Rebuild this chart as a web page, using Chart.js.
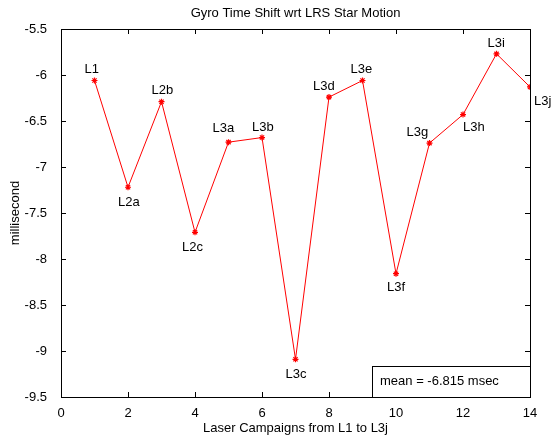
<!DOCTYPE html>
<html>
<head>
<meta charset="utf-8">
<script src="https://cdn.jsdelivr.net/npm/chart.js@4/dist/chart.umd.min.js"></script>
<style>
    html, body { margin: 0; padding: 0; background: #fff; }
    canvas { display: block; }
</style>
</head>
<body>
<canvas id="gyroChart" width="555" height="441"></canvas>
<script>
// Data
const campaigns = ['L1', 'L2a', 'L2b', 'L2c', 'L3a', 'L3b', 'L3c', 'L3d', 'L3e', 'L3f', 'L3g', 'L3h', 'L3i', 'L3j'];
const campaignIndex = [1, 2, 3, 4, 5, 6, 7, 8, 9, 10, 11, 12, 13, 14];
const timeShift = [-6.06, -7.22, -6.29, -7.71, -6.73, -6.68, -9.09, -6.24, -6.06, -8.16, -6.74, -6.43, -5.77, -6.13];
const xTicks = [0, 2, 4, 6, 8, 10, 12, 14];
const yTicks = [-9.5, -9, -8.5, -8, -7.5, -7, -6.5, -6, -5.5];
const meanText = 'mean = -6.815 msec';

const FONT = '13px "Liberation Sans", Arial, Helvetica, sans-serif';

// Label offsets (pixels) relative to each point
const labelOffsets = {
    L1: [-10, -11], L2a: [-10, 15], L2b: [-10, -11], L2c: [-13, 15],
    L3a: [-16, -14], L3b: [-10, -10], L3c: [-10, 15], L3d: [-16, -11],
    L3e: [-12, -11], L3f: [-9, 14], L3g: [-23, -11], L3h: [0, 13],
    L3i: [-9, -10], L3j: [4, 14]
};

// Draws box, inward ticks, title, axis titles, point labels and mean box
const matlabAxes = {
    id: 'matlabAxes',
    afterDraw(chart) {
        const ctx = chart.ctx;
        const area = chart.chartArea;
        const xs = chart.scales.x;
        const ys = chart.scales.y;
        ctx.save();

        // axes box
        ctx.strokeStyle = '#000';
        ctx.lineWidth = 1;
        ctx.strokeRect(Math.round(area.left) + 0.5, Math.round(area.top) + 0.5,
            Math.round(area.right - area.left), Math.round(area.bottom - area.top));

        // inward ticks on all sides
        const tl = 5;
        ctx.beginPath();
        xTicks.forEach(v => {
            const px = Math.round(xs.getPixelForValue(v)) + 0.5;
            ctx.moveTo(px, area.bottom); ctx.lineTo(px, area.bottom - tl);
            ctx.moveTo(px, area.top); ctx.lineTo(px, area.top + tl);
        });
        yTicks.forEach(v => {
            const py = Math.round(ys.getPixelForValue(v)) + 0.5;
            ctx.moveTo(area.left, py); ctx.lineTo(area.left + tl, py);
            ctx.moveTo(area.right, py); ctx.lineTo(area.right - tl, py);
        });
        ctx.stroke();

        ctx.fillStyle = '#000';
        ctx.font = FONT;
        const cx = (area.left + area.right) / 2;

        // title
        ctx.textAlign = 'center';
        ctx.textBaseline = 'middle';
        ctx.fillText('Gyro Time Shift wrt LRS Star Motion', cx, 13);

        // x axis title
        ctx.fillText('Laser Campaigns from L1 to L3j', cx, 428);

        // y axis title
        ctx.save();
        ctx.translate(15, (area.top + area.bottom) / 2);
        ctx.rotate(-Math.PI / 2);
        ctx.fillText('millisecond', 0, 0);
        ctx.restore();

        // point labels
        ctx.textAlign = 'left';
        campaigns.forEach((name, i) => {
            const px = xs.getPixelForValue(campaignIndex[i]);
            const py = ys.getPixelForValue(timeShift[i]);
            const off = labelOffsets[name];
            ctx.fillText(name, px + off[0], py + off[1]);
        });

        // mean box
        const bx = 372, by = 366;
        ctx.fillStyle = '#fff';
        ctx.fillRect(bx + 0.5, by + 0.5, area.right - bx, area.bottom - by);
        ctx.strokeRect(bx + 0.5, by + 0.5, Math.round(area.right) - bx, Math.round(area.bottom) - by);
        ctx.fillStyle = '#000';
        ctx.fillText(meanText, bx + 8, by + 15);

        ctx.restore();
    }
};

const tickFont = { family: '"Liberation Sans", Arial, sans-serif', size: 13 };

document.addEventListener('DOMContentLoaded', function () {
    const ctx = document.getElementById('gyroChart').getContext('2d');
    new Chart(ctx, {
        type: 'scatter',
        data: {
            datasets: [{
                data: campaignIndex.map((x, i) => ({ x: x, y: timeShift[i] })),
                showLine: true,
                borderColor: '#ff0000',
                backgroundColor: '#ff0000',
                borderWidth: 1,
                pointStyle: 'star',
                pointRadius: 3,
                pointBorderWidth: 1.2,
                tension: 0
            }]
        },
        options: {
            responsive: false,
            animation: false,
            events: [],
            layout: { padding: { top: 29, right: 25, left: 0, bottom: 0 } },
            plugins: {
                legend: { display: false },
                tooltip: { enabled: false },
                title: { display: false }
            },
            scales: {
                x: {
                    type: 'linear',
                    min: 0,
                    max: 14,
                    afterBuildTicks: scale => { scale.ticks = xTicks.map(v => ({ value: v })); },
                    afterFit: scale => { scale.height = 44; },
                    grid: { display: false },
                    border: { display: false },
                    ticks: { color: '#000', font: tickFont, padding: 1, maxRotation: 0, callback: v => String(v) }
                },
                y: {
                    type: 'linear',
                    min: -9.5,
                    max: -5.5,
                    afterBuildTicks: scale => { scale.ticks = yTicks.map(v => ({ value: v })); },
                    afterFit: scale => { scale.width = 61; },
                    grid: { display: false },
                    border: { display: false },
                    ticks: { color: '#000', font: tickFont, padding: 6, callback: v => String(v) }
                }
            }
        },
        plugins: [matlabAxes]
    });
});
</script>
</body>
</html>
